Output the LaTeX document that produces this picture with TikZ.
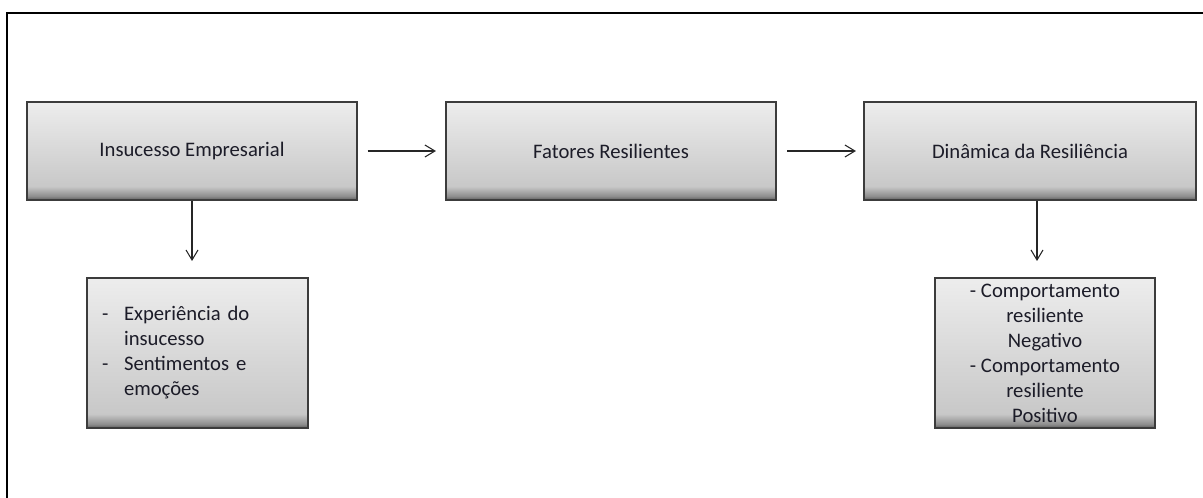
\documentclass[tikz,border=0pt]{standalone}
\usepackage{fontspec}
\setmainfont{Carlito}
\usetikzlibrary{arrows.meta}
\definecolor{boxtop}{HTML}{EDEDED}
\definecolor{boxbot}{HTML}{C8C8C8}
\definecolor{boxmid}{HTML}{8E8E8E}
\definecolor{boxband}{HTML}{5C5C5C}
\definecolor{boxline}{HTML}{3C3C3C}
\definecolor{txt}{HTML}{1C1C28}
% light-to-grey body with a dark band along the bottom edge
\pgfdeclareverticalshading{flatbox}{100bp}{%
  color(0bp)=(boxband); color(25bp)=(boxband); color(27bp)=(boxmid);
  color(32bp)=(boxbot); color(75bp)=(boxtop); color(100bp)=(boxtop)}
\pgfdeclareverticalshading{tallbox}{100bp}{%
  color(0bp)=(boxband); color(25bp)=(boxband); color(26.3bp)=(boxmid);
  color(29.7bp)=(boxbot); color(75bp)=(boxtop); color(100bp)=(boxtop)}
\tikzset{
  x=0.75pt, y=-0.75pt,
  procbox/.style={
    draw=boxline, line width=1.1pt, inner sep=0pt,
    shading=flatbox,
    text=txt, font=\fontsize{15.5}{18.75}\selectfont
  },
  detailbox/.style={procbox, shading=tallbox},
  arr/.style={draw=black!85, line width=0.8pt,
    -{Straight Barb[length=7.5pt,width=9pt,line width=0.8pt]}}
}
\begin{document}
\begin{tikzpicture}
\useasboundingbox (0,0) rectangle (1203,498);
% outer frame, open to the right and bottom
\draw[black, line width=0.9pt] (7,498) -- (7,13) -- (1203,13);

% main row
\node[procbox, minimum width=247.5pt, minimum height=73.5pt] (b1) at (192,151) {Insucesso Empresarial};
\node[procbox, minimum width=247.5pt, minimum height=73.5pt] (b2) at (611,151) {Fatores Resilientes};
\node[procbox, minimum width=249pt, minimum height=73.5pt] (b3) at (1030,151) {Dinâmica da Resiliência};

% detail boxes
\node[detailbox, minimum width=165.75pt, minimum height=112.5pt,
      text width=150pt, align=left] (b4) at (197.5,353)
  {\hspace*{3.4pt}\begin{tabular}{@{}p{16.5pt}@{}l@{}}
   - & Experiência do\\
     & insucesso\\
   - & Sentimentos e\\
     & emoções
   \end{tabular}};
\node[detailbox, minimum width=165pt, minimum height=112.5pt, align=center] (b5) at (1045,353)
  {- Comportamento\\resiliente\\Negativo\\- Comportamento\\resiliente\\Positivo};

% connectors
\coordinate (e1) at (192,261);
\coordinate (e3) at (1037,261);
\draw[arr, shorten <=7.5pt, shorten >=7pt] (b1.east) -- (b2.west);
\draw[arr, shorten <=8pt, shorten >=5.5pt] (b2.east) -- (b3.west);
\draw[arr] (b1.south) -- (e1);
\draw[arr] (b3.south -| e3) -- (e3);
\end{tikzpicture}
\end{document}
